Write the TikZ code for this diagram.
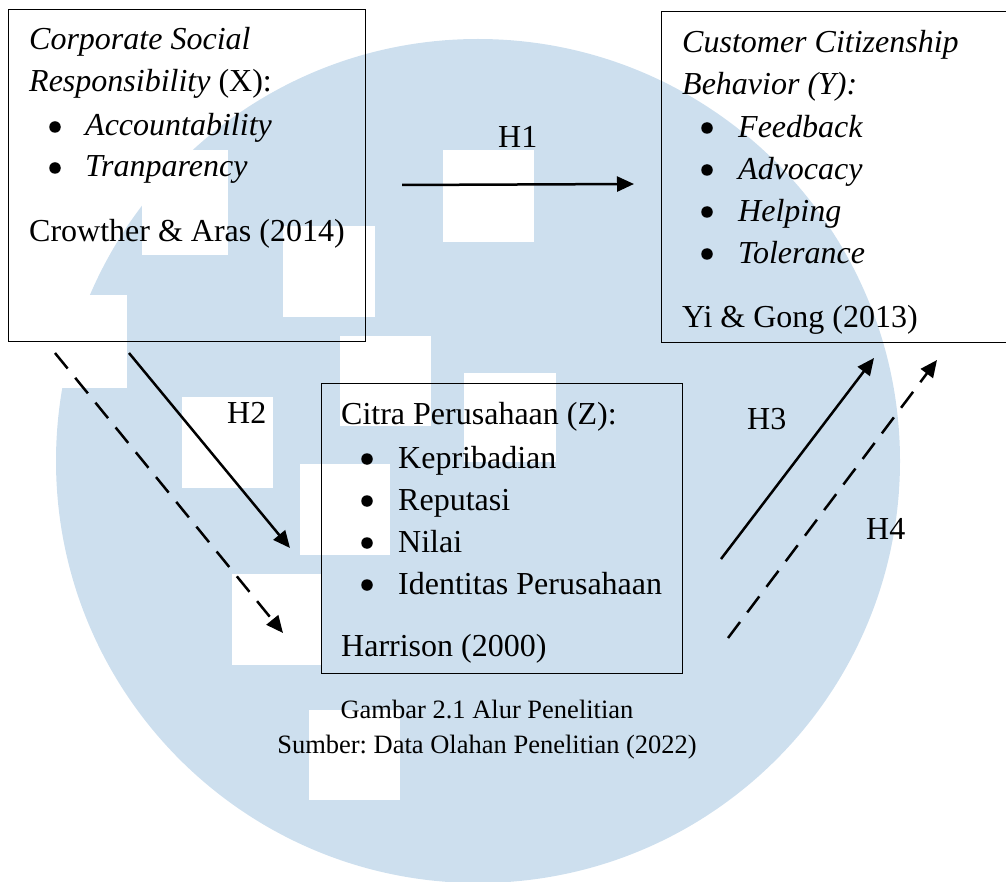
\documentclass[tikz,border=0pt]{standalone}
\usepackage{fontspec}
\setmainfont{Liberation Serif}
\usetikzlibrary{arrows.meta}
\definecolor{wmblue}{RGB}{205,223,238}
\frenchspacing
\begin{document}
\begin{tikzpicture}[x=1pt,y=-1pt,
  txt/.style={anchor=base west, inner sep=0pt, font=\fontsize{32}{40}\selectfont},
  lbl/.style={anchor=base west, inner sep=0pt, font=\fontsize{32}{40}\selectfont},
  capt/.style={anchor=base, inner sep=0pt, font=\fontsize{26.5}{32}\selectfont},
  boxframe/.style={draw, line width=1.2pt, anchor=north west, inner sep=0pt},
  bulletdot/.style={circle, fill=black, inner sep=0pt, minimum size=11.5pt},
  arr/.style={line width=2.5pt, -{Triangle[length=17pt,width=15pt]}},
  darr/.style={arr, dash pattern=on 20pt off 12pt}]
\useasboundingbox (0,0) rectangle (1006,882);
% watermark
\fill[wmblue] (478,461) circle[radius=422];
\fill[white] (0,295) rectangle (127,388);
\fill[white] (142,150) rectangle (228,255);
\fill[white] (283,226) rectangle (375,317);
\fill[white] (443,150) rectangle (534,242);
\fill[white] (340,336) rectangle (431,426);
\fill[white] (464,373) rectangle (556,462);
\fill[white] (182,397) rectangle (273,488);
\fill[white] (300,464) rectangle (390,555);
\fill[white] (232,574) rectangle (321,665);
\fill[white] (309,710) rectangle (400,800);
% boxes
\node (X) [boxframe, minimum width=357pt, minimum height=332pt] at (8,9) {};
\node (Y) [boxframe, minimum width=360pt, minimum height=331pt] at (661,11) {};
\node (Z) [boxframe, minimum width=361pt, minimum height=290pt] at (321,383) {};
% box X text
\node (x1) [txt] at (29,50) {\itshape Corporate Social};
\node (x2) [txt] at (29,92) {\itshape Responsibility\/\upshape\ (X):};
\node (xb1) [bulletdot] at (55,127) {};
\node (x3) [txt] at (85,136) {\itshape Accountability};
\node (xb2) [bulletdot] at (55,168) {};
\node (x4) [txt] at (85,177) {\itshape Tranparency};
\node (x5) [txt] at (29,242) {Crowther \& Aras (2014)};
% box Y text
\node (y1) [txt] at (682,53) {\itshape Customer Citizenship};
\node (y2) [txt] at (682,95) {\itshape Behavior (Y):};
\node (yb1) [bulletdot] at (707,128) {};
\node (y3) [txt] at (738,138) {\itshape Feedback};
\node (yb2) [bulletdot] at (707,170) {};
\node (y4) [txt] at (738,180) {\itshape Advocacy};
\node (yb3) [bulletdot] at (707,212) {};
\node (y5) [txt] at (738,222) {\itshape Helping};
\node (yb4) [bulletdot] at (707,254) {};
\node (y6) [txt] at (738,264) {\itshape Tolerance};
\node (y7) [txt] at (682,328) {Yi \& Gong (2013)};
% box Z text
\node (z1) [txt] at (341,424) {Citra Perusahaan (Z):};
\node (zb1) [bulletdot] at (367,459) {};
\node (z2) [txt] at (398,468) {Kepribadian};
\node (zb2) [bulletdot] at (367,501) {};
\node (z3) [txt] at (398,510) {Reputasi};
\node (zb3) [bulletdot] at (367,543) {};
\node (z4) [txt] at (398,552) {Nilai};
\node (zb4) [bulletdot] at (367,585) {};
\node (z5) [txt] at (398,594) {Identitas Perusahaan};
\node (z6) [txt] at (341,656) {Harrison (2000)};
% caption
\node (c1) [capt] at (487,718) {Gambar 2.1 Alur Penelitian};
\node (c2) [capt] at (487,753) {Sumber: Data Olahan Penelitian (2022)};
% arrow end points
\coordinate (h1s) at (402,185);
\coordinate (h1e) at (634,184);
\coordinate (h2s) at (129,353);
\coordinate (h2e) at (290,548);
\coordinate (h2ds) at (55,353);
\coordinate (h2de) at (283,633);
\coordinate (h3s) at (721,559);
\coordinate (h3e) at (874,358);
\coordinate (h4s) at (728,638);
\coordinate (h4e) at (937,360);
\draw[arr] (h1s) -- (h1e);
\draw[arr] (h2s) -- (h2e);
\draw[darr] (h2ds) -- (h2de);
\draw[arr] (h3s) -- (h3e);
\draw[darr] (h4s) -- (h4e);
% labels
\node (l1) [lbl] at (498,148) {H1};
\node (l2) [lbl] at (227,423) {H2};
\node (l3) [lbl] at (747,429) {H3};
\node (l4) [lbl] at (866,539) {H4};
\end{tikzpicture}
\end{document}
